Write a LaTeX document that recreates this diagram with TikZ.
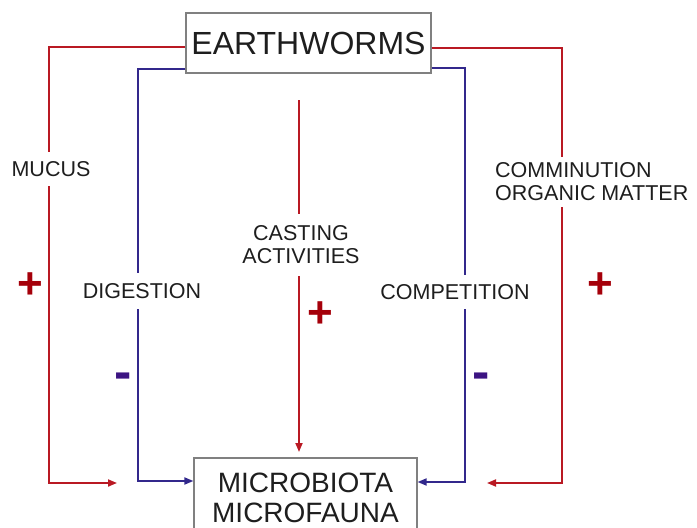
\documentclass[tikz,border=0pt]{standalone}
\usepackage{fontspec}
\setmainfont{Liberation Sans}
\usetikzlibrary{arrows.meta,calc}
\definecolor{lred}{RGB}{185,25,35}
\definecolor{pred}{RGB}{165,0,10}
\definecolor{lblue}{RGB}{50,40,140}
\definecolor{mblue}{RGB}{60,20,130}
\definecolor{boxgray}{RGB}{128,128,128}
\definecolor{txt}{RGB}{30,30,30}
\begin{document}
\begin{tikzpicture}[x=1pt,y=-1pt,
  box/.style={draw=boxgray,line width=1.2pt,fill=white,inner sep=0pt,text=txt},
  redc/.style={draw=lred,line width=1.8pt},
  bluec/.style={draw=lblue,line width=1.8pt},
  tip/.style={-{Triangle[length=9pt,width=7pt]}},
  lbl/.style={fill=white,inner xsep=2pt,inner ysep=0pt,text=txt,font=\fontsize{21.5}{23}\selectfont},
  plussign/.style={text=pred,inner sep=0pt,font=\fontsize{44}{44}\selectfont\bfseries},
  minussign/.style={text=mblue,inner sep=0pt,font=\fontsize{52}{52}\selectfont\bfseries}]
\useasboundingbox (0,0) rectangle (697,528);
% boxes
\node[box,minimum width=245pt,minimum height=60pt,font=\fontsize{32}{36}\selectfont] (ew) at (308.5,43) {EARTHWORMS};
\node[box,minimum width=223pt,minimum height=80pt,align=center,font=\fontsize{28}{30}\selectfont] (mb) at (305.5,498) {MICROBIOTA\\MICROFAUNA};
% corner and free-end coordinates
\coordinate (lcorner) at (49,483);
\coordinate (lend) at (117,483);
\coordinate (blcorner) at (138,481);
\coordinate (brcorner) at (465,482);
\coordinate (rrcorner) at (562,483);
\coordinate (rend) at (487,483);
\coordinate (caststart) at (299,100);
\coordinate (castend) at (299,452);
% connectors
\draw[redc,tip] ($(ew.west)+(0,4)$) -| (lcorner) -- (lend);
\draw[bluec,tip] (ew.west |- 0,69) -| (blcorner) -- (mb.west |- blcorner);
\draw[bluec,tip] (ew.east |- 0,68) -| (brcorner) -- (mb.east |- brcorner);
\draw[redc,tip] ($(ew.east)+(0,5)$) -| (rrcorner) -- (rend);
\draw[redc,tip] (caststart) -- (castend);
% labels
\node[lbl,minimum height=34pt] (mucus) at (51,169) {MUCUS};
\node[lbl,minimum height=36pt] (dig) at (142,291) {DIGESTION};
\node[lbl,minimum height=62pt,align=center] (cast) at (301,245) {CASTING\\ACTIVITIES};
\node[lbl,minimum height=34pt] (comp) at (455,292) {COMPETITION};
\node[lbl,minimum height=50pt,align=left,anchor=west] (comm) at (493,182) {COMMINUTION\\ORGANIC MATTER};
% signs
\node[plussign] (p1) at (30,286) {+};
\node[plussign] (p2) at (320,315) {+};
\node[plussign] (p3) at (600,286) {+};
\node[minussign] (m1) at (123,381) {-};
\node[minussign] (m2) at (481,381) {-};
\end{tikzpicture}
\end{document}
